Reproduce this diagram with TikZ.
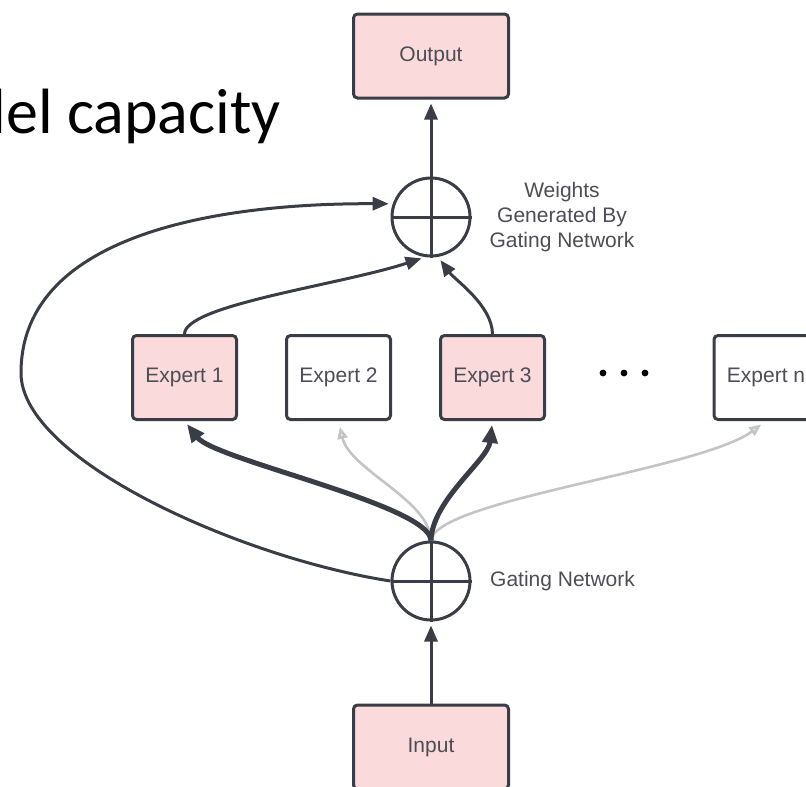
\documentclass[tikz,border=0pt]{standalone}
\usepackage{fontspec}
\setmainfont{Liberation Sans}
\newfontfamily\titlefont{Carlito}
\usetikzlibrary{arrows.meta}
\definecolor{ink}{HTML}{3A3D45}
\definecolor{labelgray}{HTML}{4D4D55}
\definecolor{pinkfill}{HTML}{FADADA}
\definecolor{fadedline}{HTML}{C4C4C4}

\begin{document}
\begin{tikzpicture}[x=1pt,y=-1pt,
  box/.style={draw=ink, line width=3pt, rounded corners=4pt, minimum width=104pt,
    minimum height=84pt, inner sep=0pt, text=labelgray, font=\fontsize{21}{25}\selectfont},
  active/.style={box, fill=pinkfill},
  idle/.style={box, fill=white},
  iobox/.style={active, minimum width=155pt},
  sum/.style={circle, draw=ink, line width=3pt, minimum size=78pt, inner sep=0pt},
  label/.style={text=labelgray, font=\fontsize{21}{25}\selectfont, inner sep=0pt},
  link/.style={draw=ink, line width=3pt, -{Triangle[length=16pt,width=13pt]}, shorten >=4pt},
  strong/.style={link, line width=5pt, -{Triangle[length=18pt,width=15pt]}},
  faint/.style={draw=fadedline, line width=2.6pt,
    -{Triangle[length=12pt,width=10pt,fill=fadedline!30]}, shorten >=6pt},
  cross/.style={draw=ink, line width=3pt},
]
\useasboundingbox (0,0) rectangle (806,787);
\clip (0,0) rectangle (806,787);

% slide title, running off the left edge
\node[anchor=base east, inner sep=0pt, font=\titlefont\fontsize{64}{72}\selectfont]
  (title) at (281,133) {del capacity};

% output and weighted sum
\node[iobox] (output) at (431,56) {Output};
\node[sum] (topsum) at (431,217) {};
\draw[cross] (topsum.north) -- (topsum.south) (topsum.west) -- (topsum.east);
\node[label, align=center] (weights) at (562,217) {Weights\\Generated By\\Gating Network};

% experts
\node[active] (e1) at (184.5,377.5) {Expert 1};
\node[idle]   (e2) at (338.5,377.5) {Expert 2};
\node[active] (e3) at (492.5,377.5) {Expert 3};
\node[idle]   (en) at (766,377.5) {Expert n};
\foreach \x in {603,624,645} \fill[black] (\x,373) circle (3.4pt);

% gating network and input
\node[sum] (gate) at (431,581) {};
\draw[cross] (gate.north) -- (gate.south) (gate.west) -- (gate.east);
\node[label, anchor=west] (gatelabel) at (490,581) {Gating Network};
\node[iobox] (input) at (431,747) {Input};

% connectors
\draw[link] (topsum.north) -- (output.south);
\draw[link] (input.north) -- (gate.south);
\coordinate (loopturn) at (21,373);
\draw[link] (gate.west) .. controls (241,558) and (21,460) .. (loopturn)
  .. controls (21,230) and (230,203) .. (topsum.161);
\draw[link] (e1.north) .. controls (185,305) and (340,285) .. (topsum.262);
\draw[link] (e3.north) .. controls (492,305) and (455,280) .. (topsum.280);

\draw[faint] (gate.north) .. controls (430,500) and (350,470) .. (e2.south);
\draw[faint] (gate.north) .. controls (435,500) and (700,470) .. (en.south);
\draw[strong] (gate.north) .. controls (430,505) and (215,460) .. (e1.south);
\draw[strong] (gate.north) .. controls (432,500) and (488,460) .. (e3.south);
\end{tikzpicture}
\end{document}
